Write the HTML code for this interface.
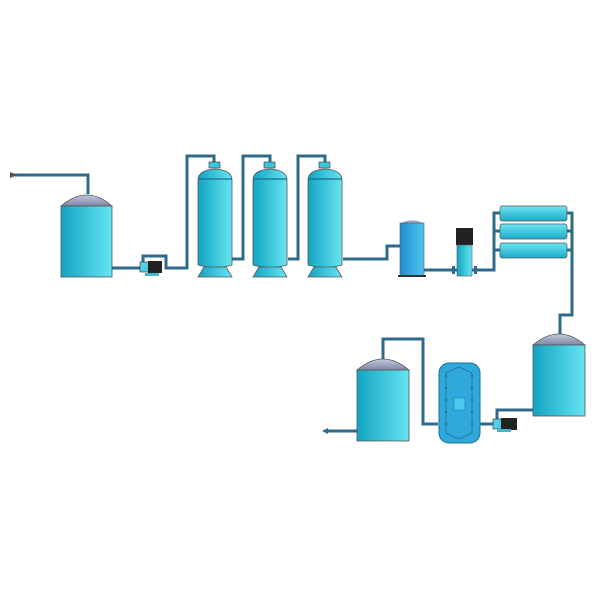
<!DOCTYPE html>
<html><head><meta charset="utf-8"><style>body{margin:0;background:#fff}svg{display:block}</style></head><body>
<svg width="600" height="600" viewBox="0 0 600 600" xmlns="http://www.w3.org/2000/svg">
<defs>
<linearGradient id="b" x1="0" x2="1" y1="0" y2="0"><stop offset="0" stop-color="#12a4c2"/><stop offset="1" stop-color="#66e4f2"/></linearGradient>
<linearGradient id="d" x1="0" x2="0" y1="0" y2="1"><stop offset="0" stop-color="#c4c8dc"/><stop offset="1" stop-color="#7d86a6"/></linearGradient>
<linearGradient id="m" x1="0" x2="0" y1="0" y2="1"><stop offset="0" stop-color="#6ee6f4"/><stop offset="1" stop-color="#1aaac6"/></linearGradient>
<linearGradient id="s" x1="0" x2="1"><stop offset="0" stop-color="#1f8fd0"/><stop offset="1" stop-color="#4fc4ee"/></linearGradient>
</defs>
<g fill="none" stroke="#2e6a8a" stroke-width="3">
<polyline points="14,175 88,175 88,194"/>
<polyline points="112,268 140,268"/>
<polyline points="143,262 143,256 166,256 166,268 187,268 187,156 214,156 214,163"/>
<polyline points="232,259 243,259 243,156 270,156 270,163"/>
<polyline points="288,259 298,259 298,156 325,156 325,163"/>
<polyline points="343,259 387,259 387,246 400,246"/>
<polyline points="424,270 478,270"/>
<polyline points="476,270 494,270 494,213 500,213"/>
<polyline points="494,231 500,231"/><polyline points="494,250 500,250"/>
<polyline points="567,213 572,213 572,315 560,315 560,334"/>
<polyline points="567,231 572,231"/><polyline points="567,250 572,250"/>
<polyline points="533,410 497,410 497,419"/>
<polyline points="493,424 480,424"/>
<polyline points="438,424 423,424 423,339 383,339 383,359"/>
<polyline points="357,431 326,431"/>
</g>
<path d="M10,172 L18,175 L10,178Z" fill="#555"/>
<path d="M322,431 L328,428 L328,434Z" fill="#2e6a8a"/>
<!-- tank 1 -->
<path d="M61,206 Q87,184 112,206Z" fill="url(#d)" stroke="#555" stroke-width="0.8"/>
<rect x="61" y="206" width="51" height="71" fill="url(#b)" stroke="#555" stroke-width="0.8"/>
<!-- pump1 -->
<rect x="140" y="262" width="9" height="10" fill="#4fd0e8" stroke="#333" stroke-width="0.6"/>
<rect x="148" y="261" width="14" height="12" fill="#222"/>
<rect x="145" y="273" width="14" height="3" fill="#3fb8d0"/>
<!-- filters -->
<g id="f">
<rect x="209" y="162" width="11" height="6" fill="#3cc4de" stroke="#333" stroke-width="0.6"/>
<path d="M198,265 L198,180 Q198,170 215,169 Q232,170 232,180 L232,265 Q215,270 198,265Z" fill="url(#b)" stroke="#555" stroke-width="0.8"/>
<line x1="198" y1="179" x2="232" y2="179" stroke="#1b6d8a" stroke-width="1.2"/>
<path d="M204,267 L226,267 L232,277 L198,277Z" fill="url(#b)" stroke="#555" stroke-width="0.8"/>
</g>
<use href="#f" x="55"/><use href="#f" x="110"/>
<!-- small tank -->
<path d="M400,224 Q412,216 424,224Z" fill="url(#d)"/>
<rect x="400" y="223" width="24" height="53" fill="url(#s)" stroke="#555" stroke-width="0.6"/>
<rect x="398" y="275" width="28" height="2" fill="#333"/>
<!-- vertical pump -->
<rect x="456" y="228" width="17" height="17" fill="#222"/>
<rect x="457" y="245" width="15" height="31" fill="url(#b)" stroke="#555" stroke-width="0.6"/>
<rect x="452" y="266" width="3" height="8" fill="#2e6a8a"/><rect x="474" y="266" width="3" height="8" fill="#2e6a8a"/>
<!-- membranes -->
<rect x="500" y="206" width="67" height="15" rx="2" fill="url(#m)" stroke="#555" stroke-width="0.7"/>
<rect x="500" y="224" width="67" height="15" rx="2" fill="url(#m)" stroke="#555" stroke-width="0.7"/>
<rect x="500" y="243" width="67" height="15" rx="2" fill="url(#m)" stroke="#555" stroke-width="0.7"/>
<!-- tank right -->
<path d="M533,345 Q559,323 585,345Z" fill="url(#d)" stroke="#555" stroke-width="0.8"/>
<rect x="533" y="345" width="52" height="71" fill="url(#b)" stroke="#555" stroke-width="0.8"/>
<!-- pump2 -->
<rect x="493" y="419" width="9" height="10" fill="#4fd0e8" stroke="#333" stroke-width="0.6"/>
<rect x="501" y="418" width="16" height="12" fill="#222"/>
<rect x="497" y="429" width="14" height="3" fill="#3fb8d0"/>
<!-- UV unit -->
<rect x="439" y="363" width="41" height="80" rx="10" fill="#2fa8dc" stroke="#1a6f96" stroke-width="1"/>
<path d="M446,373 L459,367 L472,373 L472,433 L459,439 L446,433Z" fill="none" stroke="#1a6f96" stroke-width="0.7"/>
<rect x="454" y="398" width="11" height="12" fill="#4fc8f0" stroke="#1a6f96" stroke-width="0.5"/>
<g fill="#134">
<circle cx="446" cy="376" r="0.8"/><circle cx="446" cy="388" r="0.8"/><circle cx="446" cy="400" r="0.8"/><circle cx="446" cy="412" r="0.8"/><circle cx="446" cy="424" r="0.8"/>
<circle cx="472" cy="376" r="0.8"/><circle cx="472" cy="388" r="0.8"/><circle cx="472" cy="400" r="0.8"/><circle cx="472" cy="412" r="0.8"/><circle cx="472" cy="424" r="0.8"/>
</g>
<!-- tank final -->
<path d="M357,370 Q383,348 409,370Z" fill="url(#d)" stroke="#555" stroke-width="0.8"/>
<rect x="357" y="370" width="52" height="71" fill="url(#b)" stroke="#555" stroke-width="0.8"/>
</svg>
</body></html>
